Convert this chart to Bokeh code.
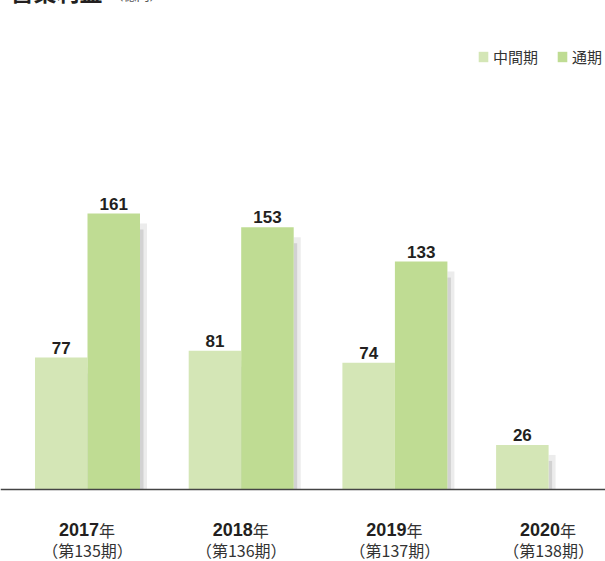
from bokeh.plotting import figure
from bokeh.models import ColumnDataSource, Range1d, Span, Label, Legend, LegendItem
from bokeh.core.properties import value
from bokeh.embed import file_html
from bokeh.resources import INLINE

# ---- data ----
years = ["2017", "2018", "2019", "2020"]
periods = ["（第135期）", "（第136期）", "（第137期）", "（第138期）"]
interim = [77, 81, 74, 26]
full_year = [161, 153, 133]
series_names = ["中間期", "通期"]
title_text = "営業利益"
unit_text = "（億円）"

# ---- layout constants ----
W, H = 605, 581
PX_X = 153.7          # px per category step
X0 = 87.0             # px of first group centre
PX_Y = 1.714          # px per unit
BASE = 509.0          # px of baseline from canvas top
BW = 0.3416           # bar width in category units

C_MID = "#d4e6b6"
C_FULL = "#bfdc93"
TXT = "#231f20"

p = figure(width=W, height=H, output_backend="svg", toolbar_location=None,
           x_axis_location=None, y_axis_location=None, min_border=0,
           x_range=Range1d(-X0 / PX_X, (W - X0) / PX_X),
           y_range=Range1d(-(H - BASE) / PX_Y, BASE / PX_Y))
p.outline_line_color = None
p.grid.visible = False
p.background_fill_color = "white"
p.styles = {"margin-top": "-20px"}

xs = list(range(len(years)))
mid = ColumnDataSource(dict(left=[i - BW for i in xs], right=list(xs), top=interim,
                            xc=[i - BW / 2 for i in xs], lab=[str(v) for v in interim]))
nf = len(full_year)
full = ColumnDataSource(dict(left=xs[:nf], right=[i + BW for i in xs[:nf]], top=full_year,
                             xc=[i + BW / 2 for i in xs[:nf]], lab=[str(v) for v in full_year]))

# shadows
def shadow(src, w_px, dy_px):
    d = src.data
    return ColumnDataSource(dict(left=d["right"],
                                 right=[r + w_px / PX_X for r in d["right"]],
                                 top=[t - dy_px / PX_Y for t in d["top"]],
                                 bottom=[0] * len(d["top"])))
for src in (mid, full):
    p.quad(left="left", right="right", top="top", bottom="bottom",
           source=shadow(src, 7, 10), fill_color="#ececec", line_color=None)
    p.quad(left="left", right="right", top="top", bottom="bottom",
           source=shadow(src, 3.5, 16), fill_color="#d2d2d2", line_color=None)

r_mid = p.quad(left="left", right="right", top="top", bottom=0, source=mid,
               fill_color=C_MID, line_color=None)
r_full = p.quad(left="left", right="right", top="top", bottom=0, source=full,
                fill_color=C_FULL, line_color=None)

# value labels
for src in (mid, full):
    p.text(x="xc", y="top", text="lab", source=src, text_align="center",
           text_baseline="middle", y_offset=-10, text_color=TXT,
           text_font=value("Liberation Sans"), text_font_style="bold",
           text_font_size="17px")

# baseline
p.add_layout(Span(location=0, dimension="width", line_color="#444444", line_width=1.5))

# category labels
cat = ColumnDataSource(dict(x=xs, y=[0] * len(xs), yr=years,
                            nen=["年"] * len(xs), per=periods))
p.text(x="x", y="y", text="yr", source=cat, text_align="right", x_offset=11.5,
       y_offset=40, text_baseline="middle", text_color=TXT,
       text_font=value("Liberation Sans"), text_font_style="bold", text_font_size="18px")
p.text(x="x", y="y", text="nen", source=cat, text_align="left", x_offset=11.5,
       y_offset=40, text_baseline="middle", text_color="#333333",
       text_font=value("Noto Sans CJK JP"), text_font_size="16px")
p.text(x="x", y="y", text="per", source=cat, text_align="center",
       y_offset=60, text_baseline="middle", text_color="#333333",
       text_font=value("Noto Sans CJK JP"), text_font_size="16px")

# title (partly above the visible area, as in the reference)
p.add_layout(Label(x=10, y=H - 10, x_units="screen", y_units="screen", text=title_text,
                   text_font="Noto Sans CJK JP", text_font_style="bold",
                   text_font_size="23px", text_color=TXT, text_baseline="middle"))
p.add_layout(Label(x=110, y=H - 14, x_units="screen", y_units="screen", text=unit_text,
                   text_font="Noto Sans CJK JP", text_font_size="13px",
                   text_color="#555555", text_baseline="middle"))

# legend
legend = Legend(items=[LegendItem(label=series_names[0], renderers=[r_mid]),
                       LegendItem(label=series_names[1], renderers=[r_full])],
                orientation="horizontal", location=(477, H - 74 - 13),
                glyph_width=12, glyph_height=13, label_height=13, label_standoff=4,
                spacing=18, padding=0, margin=0, border_line_color=None,
                background_fill_alpha=0, label_text_font="Noto Sans CJK JP",
                label_text_font_size="15px", label_text_color="#333333")
p.add_layout(legend)

open("out.html", "w").write(file_html(p, INLINE))
